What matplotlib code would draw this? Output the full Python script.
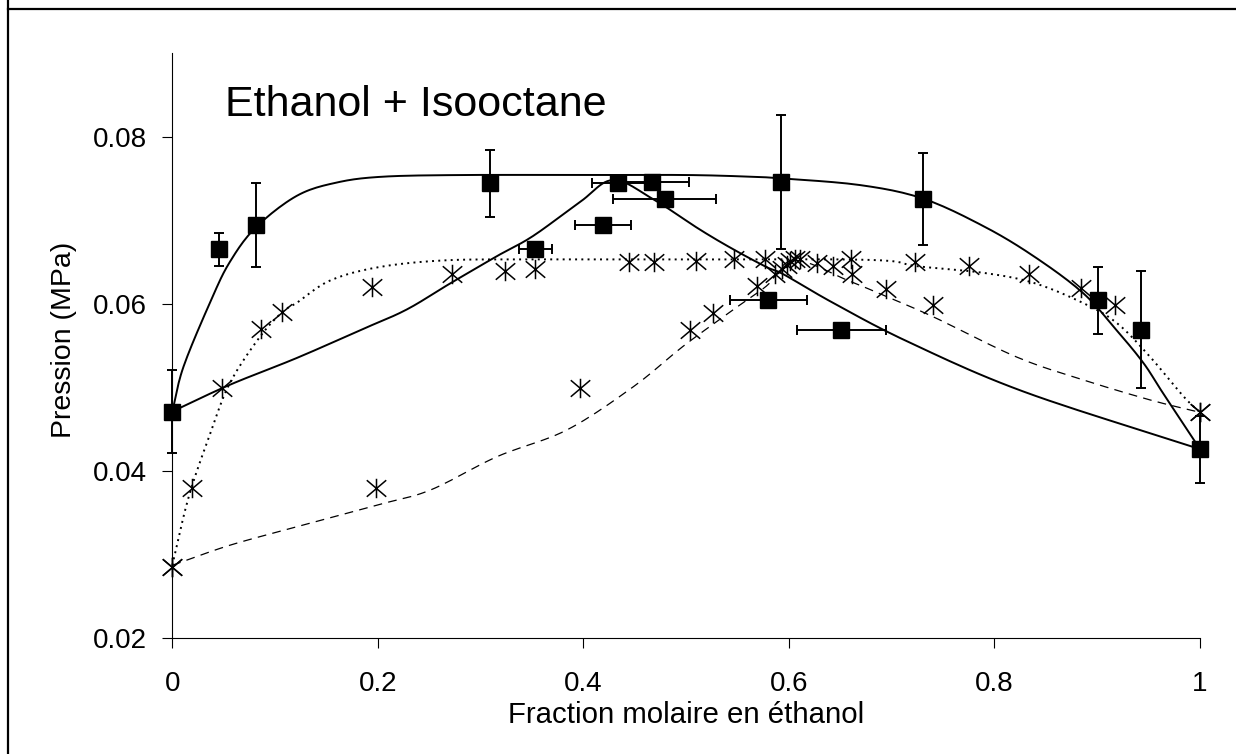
import numpy as np
import matplotlib
matplotlib.use("Agg")
import matplotlib.pyplot as plt
from matplotlib.path import Path
from matplotlib.lines import Line2D

plt.rcParams['font.family'] = ['Liberation Sans', 'DejaVu Sans']

# --- mesures (carrés) avec barres d'erreur ---
sq_x = [0.0, 0.045, 0.081, 0.309, 0.353, 0.419, 0.434, 0.467, 0.479, 0.580,
        0.592, 0.651, 0.730, 0.901, 0.943, 1.0]
sq_y = [0.0471, 0.0665, 0.0694, 0.0744, 0.0665, 0.0694, 0.0744, 0.0746, 0.0725, 0.0604,
        0.0746, 0.0568, 0.0725, 0.0604, 0.0569, 0.0426]
sq_xerr = [0, 0, 0, 0, 0.016, 0.0275, 0.026, 0.0355, 0.05, 0.0375,
           0, 0.043, 0, 0, 0, 0]
sq_yerr = [0.005, 0.002, 0.005, 0.004, 0, 0, 0, 0, 0, 0,
           0.008, 0, 0.0055, 0.004, 0.007, 0.004]

# --- mesures (étoiles) : bulle et rosée ---
bulle_x = [0.0, 0.019, 0.048, 0.086, 0.107, 0.194, 0.272, 0.324, 0.353, 0.444, 0.469,
           0.510, 0.547, 0.577, 0.601, 0.606, 0.611, 0.627, 0.660, 0.723, 0.775,
           0.834, 0.884, 0.917, 1.0]
bulle_y = [0.0285, 0.0380, 0.0499, 0.0570, 0.0590, 0.0620, 0.0635, 0.0639, 0.0641, 0.0650, 0.0650,
           0.0651, 0.0653, 0.0653, 0.0651, 0.0653, 0.0654, 0.0649, 0.0653, 0.0650, 0.0645,
           0.0636, 0.0619, 0.0598, 0.0470]
rosee_x = [0.0, 0.198, 0.397, 0.504, 0.526, 0.569, 0.586, 0.593, 0.598, 0.643, 0.661, 0.694, 0.740, 1.0]
rosee_y = [0.0285, 0.0380, 0.0499, 0.0569, 0.0589, 0.0621, 0.0635, 0.0641, 0.0646, 0.0645, 0.0636, 0.0618, 0.0598, 0.0470]

# --- courbes calculées ---
c1_x = [0.0, 0.011, 0.038, 0.056, 0.081, 0.121, 0.160, 0.205, 0.283, 0.40, 0.50, 0.562,
        0.592, 0.669, 0.730, 0.789, 0.838, 0.886, 0.919, 0.945, 0.964, 1.0]
c1_y = [0.0471, 0.0525, 0.0605, 0.0650, 0.0691, 0.0729, 0.0745, 0.0752, 0.0754, 0.0754, 0.0754, 0.0752,
        0.0750, 0.0742, 0.0726, 0.0693, 0.0657, 0.0613, 0.0568, 0.0529, 0.0493, 0.0426]
c2_x = [0.0, 0.056, 0.121, 0.186, 0.228, 0.270, 0.316, 0.351, 0.397, 0.429, 0.468, 0.513,
        0.546, 0.578, 0.595, 0.643, 0.715, 0.828, 1.0]
c2_y = [0.0471, 0.0503, 0.0535, 0.0570, 0.0593, 0.0624, 0.0657, 0.0681, 0.0722, 0.0748, 0.0725, 0.0689,
        0.0665, 0.0644, 0.0635, 0.0601, 0.0555, 0.0495, 0.0426]
c3_x = [0.0, 0.016, 0.037, 0.056, 0.085, 0.107, 0.121, 0.154, 0.202, 0.267, 0.35, 0.45,
        0.55, 0.65, 0.70, 0.724, 0.789, 0.838, 0.886, 0.919, 0.951, 0.984, 1.0]
c3_y = [0.0287, 0.0369, 0.0445, 0.0505, 0.0560, 0.0590, 0.0601, 0.0628, 0.0644, 0.0652, 0.0653, 0.0653,
        0.0653, 0.0653, 0.0651, 0.0645, 0.0637, 0.0625, 0.0601, 0.0577, 0.0537, 0.0489, 0.0470]
c4_x = [0.0, 0.056, 0.121, 0.199, 0.251, 0.316, 0.384, 0.449, 0.497, 0.546, 0.578, 0.605,
        0.659, 0.698, 0.741, 0.822, 0.886, 0.951, 1.0]
c4_y = [0.0287, 0.0311, 0.0333, 0.0359, 0.0377, 0.0417, 0.0449, 0.0501, 0.0549, 0.0593, 0.0621, 0.0652,
        0.0627, 0.0607, 0.0584, 0.0536, 0.0509, 0.0485, 0.0470]

x_ticks = [0, 0.2, 0.4, 0.6, 0.8, 1]
x_labels = ["0", "0.2", "0.4", "0.6", "0.8", "1"]
y_ticks = [0.02, 0.04, 0.06, 0.08]
y_labels = ["0.02", "0.04", "0.06", "0.08"]


def lisse(xs, ys, n=12):
    """Trace lissé (Catmull-Rom) passant par les points donnés."""
    p = np.column_stack([xs, ys]).astype(float)
    p = np.vstack([2 * p[0] - p[1], p, 2 * p[-1] - p[-2]])
    t = np.linspace(0, 1, n, endpoint=False)[:, None]
    out = []
    for i in range(1, len(p) - 2):
        p0, p1, p2, p3 = p[i - 1], p[i], p[i + 1], p[i + 2]
        out.append(0.5 * (2 * p1 + (-p0 + p2) * t + (2 * p0 - 5 * p1 + 4 * p2 - p3) * t ** 2
                          + (-p0 + 3 * p1 - 3 * p2 + p3) * t ** 3))
    out.append(p[-2][None, :])
    out = np.vstack(out)
    return out[:, 0], out[:, 1]


# étoile type Excel : X + trait vertical
etoile = Path([(0, -1), (0, 1), (-1, -0.85), (1, 0.85), (-1, 0.85), (1, -0.85)],
              [Path.MOVETO, Path.LINETO, Path.MOVETO, Path.LINETO, Path.MOVETO, Path.LINETO])

W, H = 1236, 754
fig = plt.figure(figsize=(W / 100, H / 100), dpi=100)
ax = fig.add_axes([172.3 / W, 1 - 638 / H, (1200 - 172.3) / W, (638 - 53) / H])

ax.plot(*lisse(c1_x, c1_y), color='black', lw=1.4, clip_on=False)
ax.plot(*lisse(c2_x, c2_y), color='black', lw=1.4, clip_on=False)
ax.plot(*lisse(c3_x, c3_y), color='black', lw=1.4, linestyle=(0, (1, 2.2)), clip_on=False)
ax.plot(*lisse(c4_x, c4_y), color='black', lw=0.9, linestyle=(0, (7, 5)), clip_on=False)

eb = ax.errorbar(sq_x, sq_y, xerr=sq_xerr, yerr=sq_yerr, fmt='none', ecolor='black',
                 elinewidth=1.4, capsize=3.3, capthick=1.4, zorder=3)
for art in eb.lines[1] + eb.lines[2]:
    art.set_clip_on(False)
ax.plot(sq_x, sq_y, linestyle='none', marker='s', ms=12, color='black', zorder=4, clip_on=False)
ax.plot(bulle_x, bulle_y, linestyle='none', marker=etoile, ms=14, mew=1.1,
        color='black', mfc='none', zorder=5, clip_on=False)
ax.plot(rosee_x, rosee_y, linestyle='none', marker=etoile, ms=14, mew=1.1,
        color='black', mfc='none', zorder=5, clip_on=False)

ax.set_xlim(0, 1)
ax.set_ylim(0.02, 0.09)
ax.set_xticks(x_ticks)
ax.set_xticklabels(x_labels)
ax.set_yticks(y_ticks)
ax.set_yticklabels(y_labels)
ax.tick_params(axis='both', direction='out', length=7, width=0.8, labelsize=20)
ax.tick_params(axis='x', pad=17)
ax.tick_params(axis='y', pad=11)
for s in ['top', 'right']:
    ax.spines[s].set_visible(False)
for s in ['left', 'bottom']:
    ax.spines[s].set_linewidth(0.8)

ax.text(0.0513, 0.0825, "Ethanol + Isooctane", fontsize=31, va='baseline')

fig.text(64 / W, 1 - 340 / H, "Pression (MPa)", rotation=90, fontsize=20.5,
         ha='center', va='center')
fig.text(686 / W, 1 - 723 / H, "Fraction molaire en éthanol", fontsize=21.2,
         ha='center', va='baseline')

# cadre
fig.add_artist(Line2D([8 / W, 1], [1 - 9 / H, 1 - 9 / H], color='black', lw=1.6))
fig.add_artist(Line2D([8 / W, 8 / W], [0, 1], color='black', lw=1.6))

fig.savefig("out.png", dpi=100)
